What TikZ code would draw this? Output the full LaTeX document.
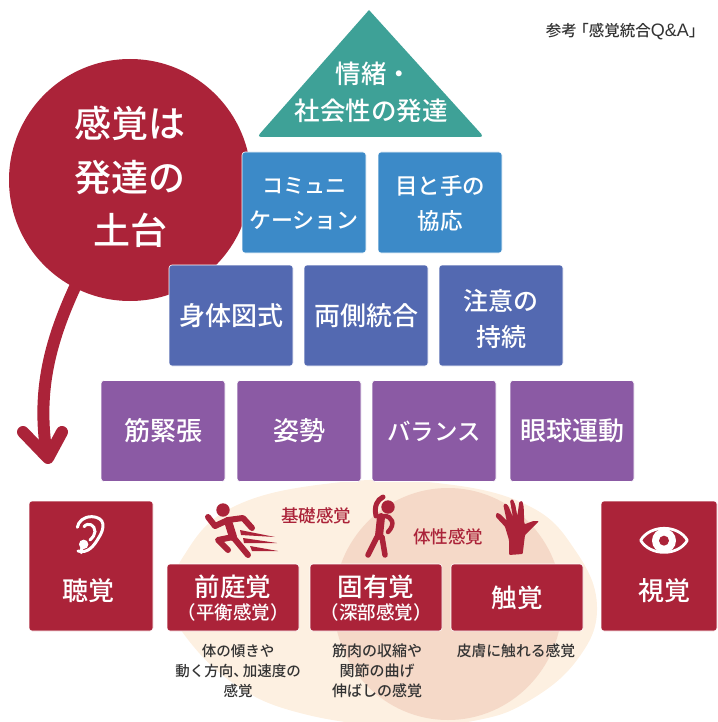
\documentclass[tikz,border=0pt]{standalone}
\usepackage{fontspec}
\setmainfont{Noto Sans CJK JP Medium}
\newfontfamily\latinfont{Liberation Sans}
\usetikzlibrary{positioning}
\definecolor{kanred}{HTML}{AB2339}
\definecolor{teal1}{HTML}{3EA197}
\definecolor{blue1}{HTML}{3C8AC8}
\definecolor{indigo1}{HTML}{5369B1}
\definecolor{purple1}{HTML}{8B5AA4}
\definecolor{cream1}{HTML}{FDF0E1}
\definecolor{peach1}{HTML}{F5D9C8}
\definecolor{ink1}{HTML}{333333}
\begin{document}
\begin{tikzpicture}[x=1pt,y=-1pt,
  box/.style = {shape=rectangle, rounded corners=3pt, draw=white, line width=.6pt,
    align=center, text=white, inner sep=0pt, outer sep=0pt,
    minimum width=124pt, minimum height=101pt, font=\fontsize{26}{36}\selectfont},
  bluebox/.style = {box, fill=blue1, font=\fontsize{22}{35}\selectfont},
  indigobox/.style = {box, fill=indigo1},
  purplebox/.style = {box, fill=purple1},
  redbox/.style = {box, fill=kanred, minimum height=130pt},
  sensebox/.style = {box, fill=kanred, minimum width=132pt, minimum height=67pt,
    font=\fontsize{25.5}{30}\selectfont},
  boxlabel/.style = {text=white, align=center, inner sep=0pt, font=\fontsize{26}{30}\selectfont},
  subline/.style = {font=\fontsize{18.5}{20}\selectfont},
  tag/.style = {text=kanred, inner sep=0pt, font=\fontsize{17.5}{20}\selectfont},
  note/.style = {text=ink1, align=center, inner sep=0pt, font=\fontsize{14.5}{20}\selectfont},
  icon/.style = {draw=kanred, line width=6pt, line cap=round, line join=round}]
  \useasboundingbox (0,0) rectangle (717,722);
  % background ovals
  \begin{scope}
    \clip (0,0) rectangle (717,722);
    \fill[cream1] plot[smooth cycle, tension=.7] coordinates {(172,600) (183,557) (233,507)
      (333,483) (437,483) (527,505) (575,550) (597,607) (577,660) (527,702)
      (473,721) (400,727) (300,713) (233,683) (183,633)};
    \fill[peach1] (448,604) ellipse [x radius=114, y radius=116];
  \end{scope}
  % big circle and arrow
  \draw[kanred, line width=12pt, line cap=round] (76,285) .. controls (48,345) and (37,395) .. (47,456);
  \draw[kanred, line width=12pt, line cap=round, line join=round] (23,432) -- (48,458) -- (62,432);
  \node[circle, fill=kanred, minimum size=242pt, inner sep=0pt] (base) at (130,180) {};
  \node[boxlabel, font=\fontsize{37}{53.5}\selectfont] (basetxt) at (130,177) {感覚は\\発達の\\土台};
  % triangle
  \fill[teal1] (369,10) [rounded corners=4pt] -- (484,137) -- (257,137) [sharp corners] -- cycle;
  \node[boxlabel, font=\fontsize{25.5}{37}\selectfont] (emotion) at (371,92) {\hspace*{6pt}情緒・\\社会性の発達};
  % pyramid rows
  \node[bluebox] (comm) at (304,202.5) {};
  \node[boxlabel, font=\fontsize{22}{35}\selectfont] (commtxt) at ([yshift=-1pt]comm.center) {{\fontsize{21}{35}\selectfont コミュニ}\\ケーション};
  \node[bluebox, right=12pt of comm] (eyehand) {};
  \node[boxlabel, font=\fontsize{22.5}{35}\selectfont] (eyehandtxt) at ([yshift=-1pt]eyehand.center) {目と手の\\協応};
  \node[indigobox] (body) at (231,315.5) {身体図式};
  \node[indigobox, right=11pt of body] (bilateral) {両側統合};
  \node[indigobox, right=11pt of bilateral] (attention) {};
  \node[boxlabel, font=\fontsize{25}{36}\selectfont] (attentiontxt) at ([yshift=-3pt]attention.center) {注意の\\持続};
  \node[purplebox] (tension) at (163,431) {筋緊張};
  \node[purplebox, right=12pt of tension] (posture) {姿勢};
  \node[purplebox, right=11pt of posture, font=\fontsize{23.5}{30}\selectfont] (balance) {バランス};
  \node[purplebox, right=14pt of balance] (eyemove) {眼球運動};
  % senses
  \node[redbox] (hearing) at (91,566) {};
  \node[boxlabel] (hearingtxt) at (88,591) {聴覚};
  \node[redbox, minimum width=116pt] (sight) at (659,566) {};
  \node[boxlabel] (sighttxt) at (664,591) {視覚};
  \node[sensebox] (vestibular) at (233,597.5) {};
  \node[boxlabel, font=\fontsize{25.5}{30}\selectfont] (vestibulartxt) at ([yshift=-1pt]vestibular.center) {前庭覚\\[-7pt]{\fontsize{18.5}{20}\selectfont （平衡感覚）}};
  \node[sensebox, right=11pt of vestibular] (proprio) {};
  \node[boxlabel, font=\fontsize{25.5}{30}\selectfont] (propriotxt) at ([yshift=-1pt]proprio.center) {固有覚\\[-7pt]{\fontsize{18.5}{20}\selectfont （深部感覚）}};
  \node[sensebox, right=9pt of proprio] (touch) {触覚};
  \node[tag] (basic) at (316,516) {基礎感覚};
  \node[tag] (somatic) at (448,537) {体性感覚};
  \node[note] (vestnote) at (238,671) {体の傾きや\\動く方向、\hspace{-5pt}加速度の\\感覚};
  \node[note, font=\fontsize{15}{20}\selectfont] (propnote) at (377,671) {筋肉の収縮や\\関節の曲げ\\伸ばしの感覚};
  \node[note, font=\fontsize{14.8}{20}\selectfont] (touchnote) at (516,651) {皮膚に触れる感覚};
  \node[text=ink1, inner sep=0pt, font=\fontsize{15.5}{18}\selectfont] (source) at (625,32) {参考\hspace{-3.5pt}「感覚統合{\latinfont\fontsize{18}{18}\selectfont Q\&A}」};
  % runner
  \fill[kanred] (223,510) circle (6.7);
  \draw[icon, line width=6pt] (208,517) -- (215,526) -- (228,520) -- (243,518) -- (252,528);
  \draw[icon, line width=8pt] (228,521) -- (233,537);
  \draw[icon, line width=6pt] (233,537) -- (218,540) -- (228,550);
  \draw[icon, line width=6pt] (233,537) -- (248,555);
  \fill[kanred] (240,530) -- (275,537) -- (241,535) -- cycle
    (243,538) -- (277,543) -- (244,543) -- cycle
    (250,546) -- (278,551) -- (252,551) -- cycle;
  % stretching figure
  \fill[kanred] (388,507) circle (6.7);
  \draw[icon, line width=5pt] (376,516) .. controls (374,506) and (377,500) .. (383,497);
  \draw[icon, line width=8pt] (381,517) -- (379,536);
  \draw[icon, line width=4.5pt] (384,516) .. controls (392,516) and (396,524) .. (388,532);
  \draw[icon, line width=5.5pt] (377,537) -- (368,555) (382,537) -- (385,555);
  % hand
  \begin{scope}[shift={(485,490)},x=.3333pt,y=-.3333pt]
    \fill[kanred, rounded corners=1pt] (72,195) -- (72,150) -- (60,110) -- (32,80) -- (35,68) -- (45,72)
      -- (65,92) -- (55,45) -- (62,40) -- (70,48) -- (84,82) -- (75,32) -- (83,27) -- (91,45) -- (97,78)
      -- (103,35) -- (112,33) -- (116,50) -- (118,103) -- (145,93) -- (162,93) -- (140,115) -- (120,135) -- (113,192) -- cycle;
  \end{scope}
  % ear
  \begin{scope}[shift={(60,510)},x=.3333pt,y=-.3333pt]
    \draw[white, line width=3pt, line cap=round] (54,123) .. controls (85,132) and (103,105) .. (115,85)
      .. controls (135,55) and (138,22) .. (95,20) .. controls (70,20) and (55,35) .. (52,52);
    \draw[white, line width=3pt, line cap=round] (72,50) .. controls (85,35) and (105,45) .. (105,65) .. controls (105,75) and (98,82) .. (90,90);
    \fill[white] (71,103) circle (4.7pt);
    \draw[white, line width=3pt, line cap=round] (66,108) -- (64,128);
  \end{scope}
  % eye
  \begin{scope}[shift={(625,515)},x=.3333pt,y=-.3333pt]
    \draw[white, line width=2.8pt, line join=round, fill=kanred] (47,76) .. controls (75,28) and (160,28) .. (187,76) .. controls (160,124) and (75,124) .. (47,76) -- cycle;
    \fill[white] (117,77) circle (12pt);
    \fill[kanred] (117,77) circle (5pt);
  \end{scope}
\end{tikzpicture}
\end{document}
